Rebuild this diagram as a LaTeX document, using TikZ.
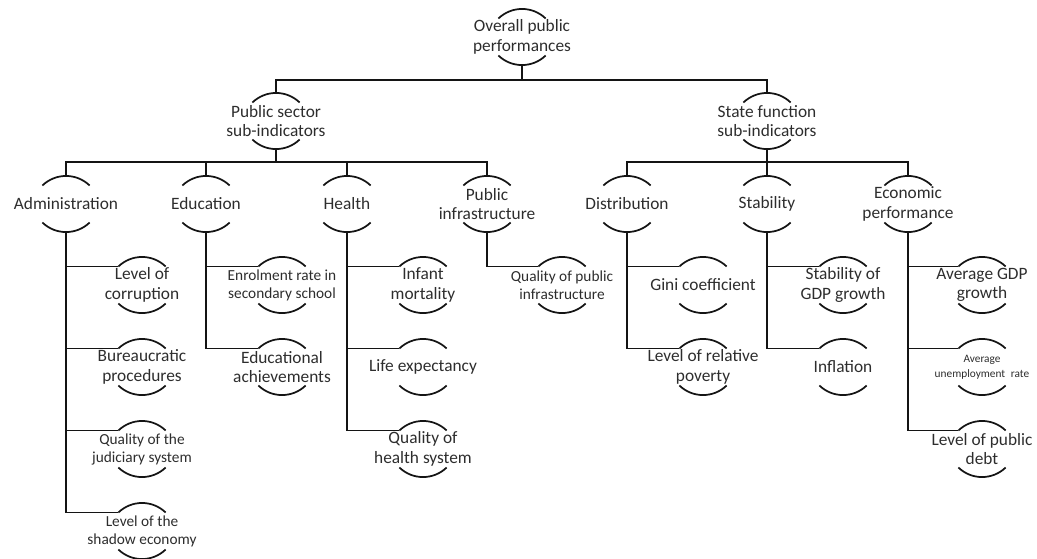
\documentclass[tikz,border=0pt]{standalone}
\usepackage{fontspec}
\setmainfont{Carlito}
\usepackage{tikz}
\definecolor{tgray}{RGB}{45,45,45}
\definecolor{lgray}{RGB}{20,20,20}
\tikzset{
  ind/.style={align=center, minimum height=42pt, inner sep=1pt, text=tgray,
              font=\fontsize{13}{14.5}\selectfont},
  small/.style={font=\fontsize{11.5}{13.5}\selectfont},
  tiny/.style={font=\fontsize{8.5}{11}\selectfont},
  link/.style={line width=1.3pt, color=lgray},
  arcline/.style={line width=1.3pt, color=lgray}
}

\begin{document}
\begin{tikzpicture}[x=0.75pt, y=-0.75pt]
\useasboundingbox (0,0) rectangle (1037,558);

% Top and sub-indicators
\node (top) [ind] at (522,37) {Overall public\\performances};
\node (pub) [ind] at (276,121) {Public sector\\sub-indicators};
\node (sta) [ind] at (767,121) {State function\\sub-indicators};

% Public sector branches
\node (adm) [ind] at (66,204) {Administration};
\node (edu) [ind] at (206,204) {Education};
\node (hea) [ind] at (347,204) {Health};
\node (inf) [ind] at (487,204) {Public\\infrastructure};

% State function branches
\node (dis) [ind] at (627,204) {Distribution};
\node (stb) [ind] at (767,204) {Stability};
\node (eco) [ind] at (908,204) {Economic\\performance};

% Indicators
\node (cor) [ind] at (142,285) {Level of\\corruption};
\node (bur) [ind] at (142,367) {Bureaucratic\\procedures};
\node (jud) [ind, small] at (142,449) {Quality of the\\judiciary system};
\node (sha) [ind, small] at (142,531) {Level of the\\shadow economy};
\node (enr) [ind, small] at (282,285) {Enrolment rate in\\secondary school};
\node (ach) [ind] at (282,367) {Educational\\achievements};
\node (mor) [ind] at (423,285) {Infant\\mortality};
\node (lif) [ind] at (423,367) {Life expectancy};
\node (hsy) [ind] at (423,449) {Quality of\\health system};
\node (qpi) [ind, small] at (562,285) {Quality of public\\infrastructure};
\node (gin) [ind] at (703,285) {Gini coefficient};
\node (pov) [ind] at (703,367) {Level of relative\\poverty};
\node (sgd) [ind] at (843,285) {Stability of\\GDP growth};
\node (ifl) [ind] at (843,367) {Inflation};
\node (agd) [ind] at (982,285) {Average GDP\\growth};
\node (une) [ind, tiny] at (982,367) {Average\\unemployment\hspace{0.5em}rate};
\node (deb) [ind] at (982,449) {Level of public\\debt};

% arcs above and below each text
\foreach \n in {top,pub,sta,adm,edu,hea,inf,dis,stb,eco,cor,bur,jud,sha,enr,ach,mor,lif,hsy,qpi,gin,pov,sgd,ifl,agd,une,deb}
  \draw[arcline] (\n.center) ++(-23.6,-18.5) arc[start angle=226, end angle=314, radius=34]
                 (\n.center) ++(-23.6,18.5) arc[start angle=134, end angle=46, radius=34];

% tree links
\foreach \c in {pub,sta}
  \draw[link] (top.south) -- ++(0,15) -| (\c.north);
\foreach \c in {adm,edu,hea,inf}
  \draw[link] (pub.south) -- ++(0,13) -| (\c.north);
\foreach \c in {dis,stb,eco}
  \draw[link] (sta.south) -- ++(0,13) -| (\c.north);

% indicator links, to the left end of the upper arc
\foreach \p/\c in {adm/cor,adm/bur,adm/jud,adm/sha,edu/enr,edu/ach,hea/mor,hea/lif,hea/hsy,
                   inf/qpi,dis/gin,dis/pov,stb/sgd,stb/ifl,eco/agd,eco/une,eco/deb}
  \draw[link] (\p.south) |- ([xshift=-17.7pt, yshift=13.9pt]\c.center);
\end{tikzpicture}
\end{document}
